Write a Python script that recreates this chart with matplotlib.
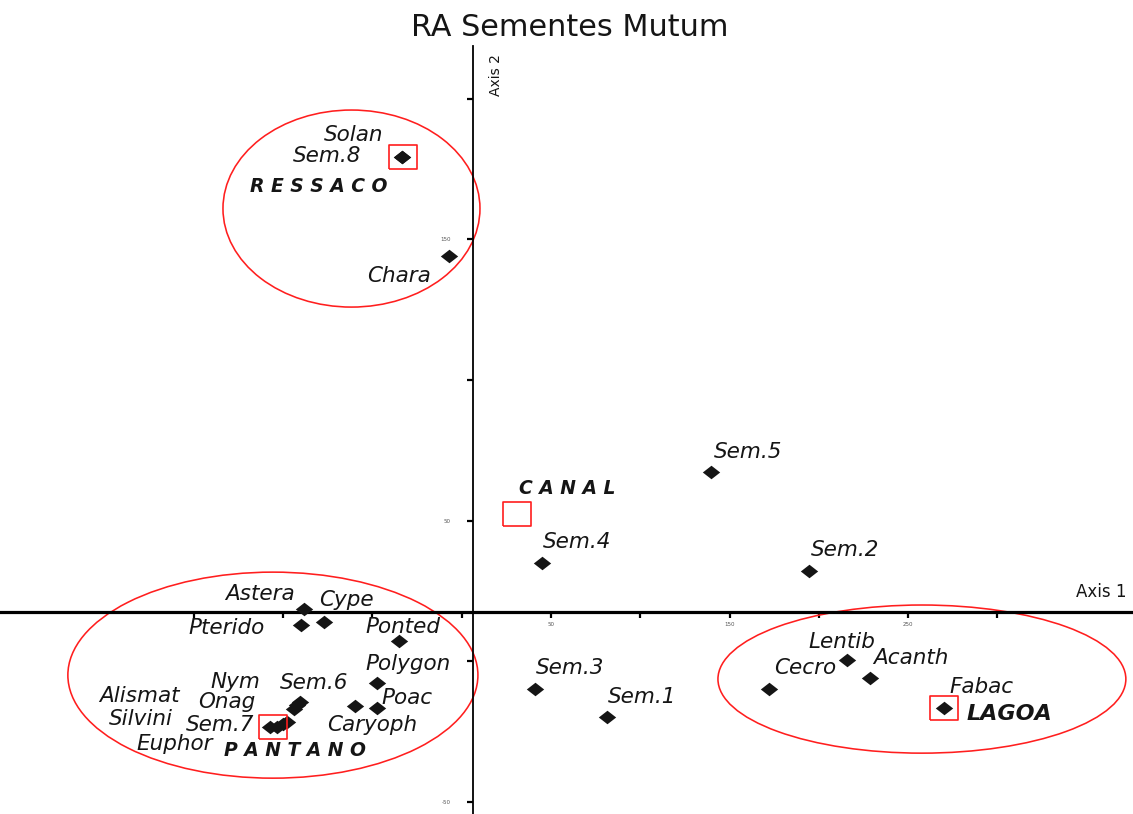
import matplotlib
matplotlib.use("Agg")
import matplotlib.pyplot as plt
from matplotlib.patches import Ellipse

plt.rcParams['font.family'] = ['DejaVu Sans']

# ---------------- data ----------------
title = "RA Sementes Mutum"

point_names = ["Solan", "Sem.8", "Chara", "Sem.5", "Sem.4", "Sem.2", "Sem.3", "Sem.1",
               "Cecro", "Lentib", "Acanth", "Fabac",
               "Astera", "Pterido", "Cype", "Ponted", "Polygon", "Poac", "Caryoph",
               "Sem.6", "Nym", "Onag", "Alismat", "Silvini", "Euphor", "Sem.7"]
point_x = [-33.6, -33.6, -7.1, 139.6, 44.8, 194.5, 41.0, 81.5,
           172.1, 215.6, 228.6, 270.0,
           -88.3, -90.0, -77.1, -35.1, -47.4, -47.4, -59.7,
           -90.5, -92.2, -93.8, -97.8, -100.1, -103.4, -107.3]
point_y = [179.3, 179.3, 144.2, 67.4, 34.8, 32.0, -10.0, -20.0,
           -10.0, 0.4, -6.0, -16.7,
           18.5, 12.8, 13.9, 7.1, -7.8, -16.7, -16.0,
           -14.6, -15.7, -17.1, -21.7, -22.4, -23.5, -23.5]

site_names = ["RESSACO", "CANAL", "PANTANO", "LAGOA"]
site_x = [-33.1, 31.2, -105.9, 270.0]
site_y = [179.4, 52.3, -23.5, -16.7]

# group ellipses: centre x, centre y, width, height (axis units)
group_cx = [-61.7, -105.7, 257.7]
group_cy = [161.0, -5.0, -6.4]
group_w = [143.9, 229.6, 228.4]
group_h = [70.1, 73.3, 52.7]

x_ticks = [-150, -100, -50, 0, 50, 100, 150, 200, 250, 300]
x_tick_labels = ["", "", "", "", "50", "", "150", "", "250", ""]
y_ticks = [-50, 0, 50, 100, 150, 200]
y_tick_labels = ["-50", "", "50", "", "150", ""]

axis1_at_y = 17.3   # horizontal axis position
axis2_at_x = 6.3    # vertical axis position

# label offsets in pixels (dx, dy) from each point
point_label_offsets = [(-48, 22), (-75, 1), (-50, -20), (37, 20), (35, 21), (36, 21), (35, 21), (35, 20),
                       (36, 21), (-5, 18), (41, 20), (38, 21),
                       (-44, 15), (-74, -3), (22, 22), (4, 14), (31, 19), (30, 10), (17, -19),
                       (14, 19), (-62, 23), (-67, 7), (-148, 26), (-142, 5), (-102, -17), (-50, 2)]
site_label_offsets = [(-84, -30), (50, 26), (22, -23), (66, -6)]

# ---------------- figure ----------------
W, H = 1133, 814
fig = plt.figure(figsize=(W / 100, H / 100), dpi=100)
ax = fig.add_axes([0, 0, 1, 1])
ax.set_xlim(-258.5, 375.9)
ax.set_ylim(-54.4, 235.2)
ax.patch.set_alpha(0)

red = '#ff1e1e'
ink = '#151515'

for cx, cy, w, h in zip(group_cx, group_cy, group_w, group_h):
    ax.add_patch(Ellipse((cx, cy), w, h, fill=False, edgecolor=red, lw=1.15, zorder=2))

# axes through the centroid
for s in ['top', 'right']:
    ax.spines[s].set_visible(False)
ax.spines['left'].set_position(('data', axis2_at_x))
ax.spines['bottom'].set_position(('data', axis1_at_y))
ax.spines['bottom'].set_linewidth(2.3)
ax.spines['left'].set_linewidth(1.3)
ax.spines['left'].set_bounds(-54.4, 218.9)
ax.spines['bottom'].set_bounds(-258.5, 375.9)
ax.spines['bottom'].set_zorder(3)
ax.spines['left'].set_zorder(3)

ax.set_xticks(x_ticks)
ax.set_xticklabels(x_tick_labels)
ax.set_yticks(y_ticks)
ax.set_yticklabels(y_tick_labels)
ax.tick_params(axis='x', direction='out', length=4, width=1.6, pad=3, labelsize=4, labelcolor='#555555')
ax.tick_params(axis='y', direction='out', length=4, width=1.6, pad=12, labelsize=4, labelcolor='#555555')

# markers
diamond = [(-1.0, 0.0), (0.0, 0.78), (1.0, 0.0), (0.0, -0.78), (-1.0, 0.0)]
rect = [(-1.0, -0.85), (1.0, -0.85), (1.0, 0.85), (-1.0, 0.85), (-1.0, -0.85)]

ax.plot(point_x, point_y, linestyle='none', marker=diamond, markersize=12.5,
        color=ink, markeredgewidth=0, zorder=5)
ax.plot(site_x, site_y, linestyle='none', marker=rect, markersize=19.5,
        markerfacecolor='none', markeredgecolor=red, markeredgewidth=1.2, zorder=6)

for name, x, y, (dx, dy) in zip(point_names, point_x, point_y, point_label_offsets):
    ax.annotate(name, (x, y), xytext=(dx, dy), textcoords='offset pixels',
                ha='center', va='center', fontsize=15.5, style='italic', color=ink, zorder=7)

for name, x, y, (dx, dy) in zip(site_names, site_x, site_y, site_label_offsets):
    if name == "LAGOA":
        txt, fs = name, 16
    else:
        txt, fs = " ".join(name), 13.5
    ax.annotate(txt, (x, y), xytext=(dx, dy), textcoords='offset pixels',
                ha='center', va='center', fontsize=fs, style='italic', fontweight='bold',
                color=ink, zorder=7)

# axis titles
ax.annotate("Axis 1", (1.0, axis1_at_y), xycoords=('axes fraction', 'data'),
            xytext=(-32, 20), textcoords='offset pixels', ha='center', va='center',
            fontsize=12, color=ink)
ax.annotate("Axis 2", (axis2_at_x, 1.0), xycoords=('data', 'axes fraction'),
            xytext=(23, -75), textcoords='offset pixels', ha='center', va='center',
            fontsize=10, rotation=90, color=ink)

fig.text(570 / W, 1 - 27 / H, title, ha='center', va='center', fontsize=21.8, color=ink)

fig.savefig("out.png", dpi=100)
